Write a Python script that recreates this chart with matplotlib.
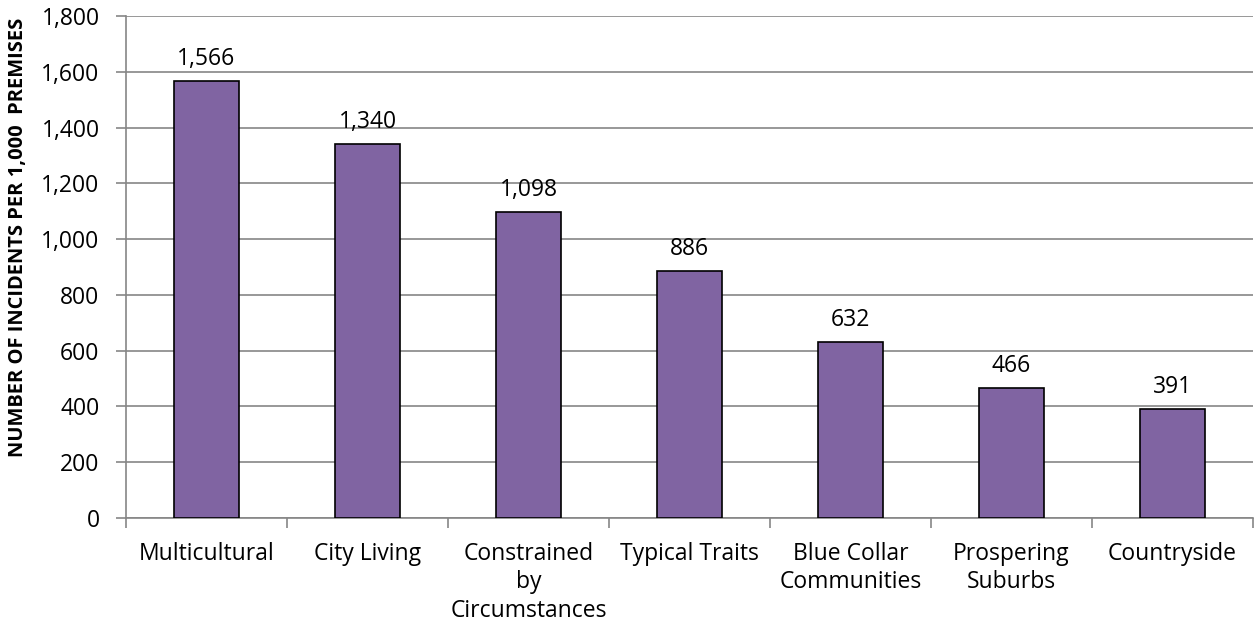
import matplotlib.pyplot as plt
from matplotlib.ticker import FuncFormatter, MultipleLocator

categories = ['Multicultural', 'City Living', 'Constrained\nby\nCircumstances',
              'Typical Traits', 'Blue Collar\nCommunities', 'Prospering\nSuburbs',
              'Countryside']
incidents = [1566, 1340, 1098, 886, 632, 466, 391]

plt.rcParams['font.family'] = ['Open Sans', 'DejaVu Sans']
FS = 16.5

fig = plt.figure(figsize=(12.57, 6.32), dpi=100)
ax = fig.add_axes([126 / 1257, (632 - 518) / 632, (1253 - 126) / 1257, (518 - 16) / 632])

x = range(len(categories))
bars = ax.bar(x, incidents, width=0.4, color='#8064A2', edgecolor='black',
              linewidth=1.2, zorder=3)
for b, v in zip(bars, incidents):
    ax.text(b.get_x() + b.get_width() / 2, v + 36, f'{v:,}', ha='center',
            va='bottom', fontsize=FS)

ax.set_xlim(-0.5, len(categories) - 0.5)
ax.set_ylim(0, 1800)
ax.yaxis.set_major_locator(MultipleLocator(200))
ax.yaxis.set_major_formatter(FuncFormatter(lambda v, p: f'{int(v):,}'))
ax.grid(axis='y', color='#868686', linewidth=1.2, zorder=0)

# category boundaries carry the ticks, names sit on minor ticks at bar centres
ax.set_xticks([i - 0.5 for i in range(len(categories) + 1)])
ax.set_xticklabels([])
ax.set_xticks(list(x), minor=True)
ax.set_xticklabels(categories, minor=True, fontsize=FS, linespacing=1.25, va='top')
ax.tick_params(axis='x', which='minor', length=0, pad=17)
ax.tick_params(axis='x', which='major', length=7, color='#868686', width=1.2)
ax.tick_params(axis='y', length=7, color='#868686', width=1.2, labelsize=FS, pad=12)

for s in ['top', 'right']:
    ax.spines[s].set_visible(False)
for s in ['left', 'bottom']:
    ax.spines[s].set_color('#868686')
    ax.spines[s].set_linewidth(1.2)

fig.text(18 / 1257, 1 - 237 / 632, 'NUMBER OF INCIDENTS PER 1,000  PREMISES',
         rotation=90, ha='center', va='center', fontsize=14.5, fontweight='bold')

fig.savefig('out.png', dpi=100)
